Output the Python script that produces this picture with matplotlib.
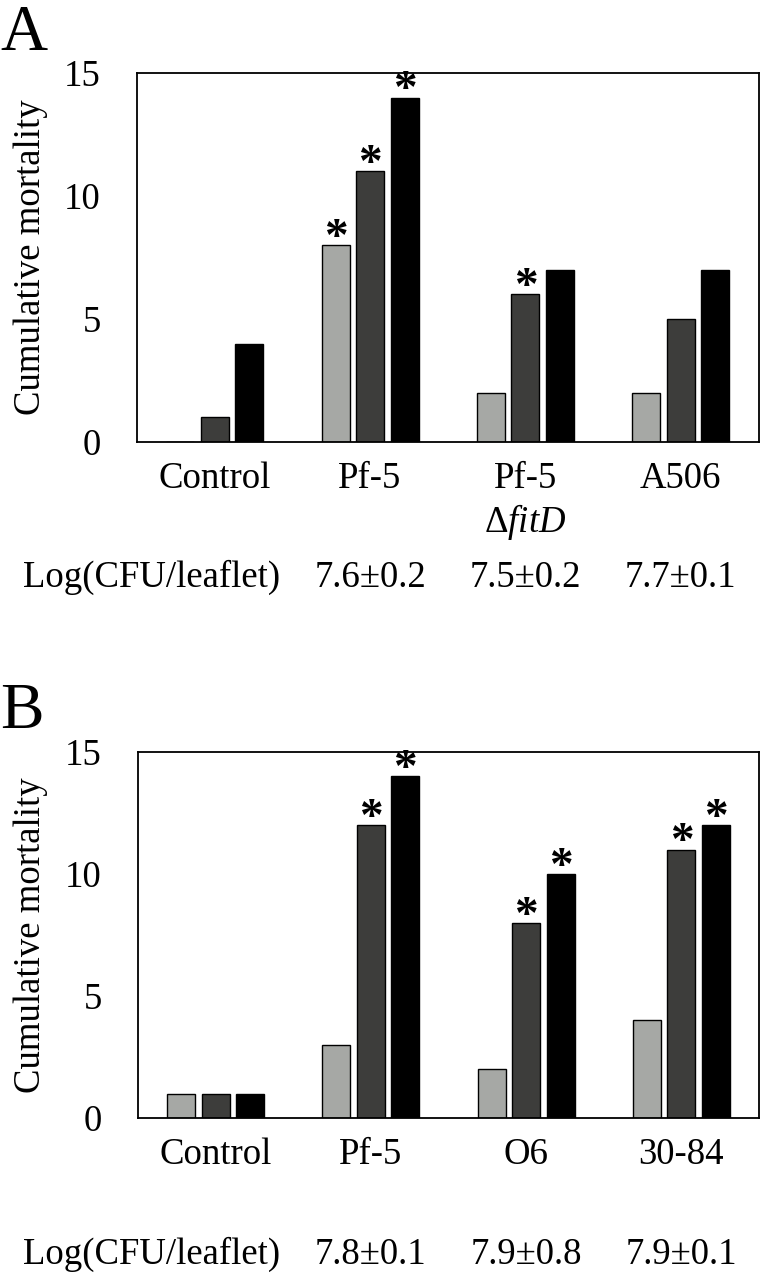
import numpy as np
import matplotlib
matplotlib.use("Agg")
import matplotlib.pyplot as plt

plt.rcParams['font.family'] = ['Liberation Serif', 'DejaVu Serif']
plt.rcParams['mathtext.fontset'] = 'custom'
plt.rcParams['mathtext.rm'] = 'Liberation Serif'
plt.rcParams['mathtext.it'] = 'Liberation Serif:italic'

# panel A
cats_a = ["Control", "Pf-5", "Pf-5\n$\\Delta\\mathit{fitD}$", "A506"]
a_light = [0, 8, 2, 2]
a_dark = [1, 11, 6, 5]
a_black = [4, 14, 7, 7]
a_star_light = [False, True, False, False]
a_star_dark = [False, True, True, False]
a_star_black = [False, True, False, False]
a_cfu = ["", "7.6\u00b10.2", "7.5\u00b10.2", "7.7\u00b10.1"]

# panel B
cats_b = ["Control", "Pf-5", "O6", "30-84"]
b_light = [1, 3, 2, 4]
b_dark = [1, 12, 8, 11]
b_black = [1, 14, 10, 12]
b_star_light = [False, False, False, False]
b_star_dark = [False, True, True, True]
b_star_black = [False, True, True, True]
b_cfu = ["", "7.8\u00b10.1", "7.9\u00b10.8", "7.9\u00b10.1"]

colors = ["#a6a8a5", "#3d3d3b", "#000000"]
W = 761
H = 1275
FS = 26.5


def panel(fig, rect, cats, series, stars, cfu, letter, letter_xy, cfu_y):
    ax = fig.add_axes(rect)
    x = np.arange(len(cats))
    offs = [-0.222, 0, 0.222]
    for vals, st, off, c in zip(series, stars, offs, colors):
        ax.bar(x + off, vals, width=0.18, color=c, edgecolor="black", linewidth=1.0, zorder=2)
        for xi, v, s in zip(x, vals, st):
            if s:
                ax.annotate("*", (xi + off, v), xytext=(0, -3.5), textcoords="offset points",
                            ha="center", va="baseline", fontsize=34, fontweight="bold")
    ax.set_xlim(-0.5, 3.5)
    ax.set_ylim(0, 15)
    ax.set_yticks([0, 5, 10, 15])
    ax.set_xticks(x)
    ax.set_xticklabels(cats, fontsize=FS, va="top", linespacing=1.2)
    ax.tick_params(axis="y", length=0, pad=26, labelsize=FS)
    ax.tick_params(axis="x", length=0, pad=14)
    for sp in ax.spines.values():
        sp.set_linewidth(1.3)
    # y label placed in figure pixels
    fig.text(31 / W, rect[1] + rect[3] / 2, "Cumulative mortality", fontsize=FS,
             rotation=90, ha="center", va="center")
    fig.text(letter_xy[0] / W, 1 - letter_xy[1] / H, letter, fontsize=47, ha="left", va="baseline")
    fig.text(152 / W, 1 - cfu_y / H, "Log(CFU/leaflet)", fontsize=FS, ha="center", va="baseline")
    for xi, t in zip(x, cfu):
        px = ax.transData.transform((xi, 0))[0]
        fig.text(px / W, 1 - cfu_y / H, t, fontsize=FS, ha="center", va="baseline")
    return ax


fig = plt.figure(figsize=(W / 100, H / 100), dpi=100)
panel(fig, [137 / W, 1 - 442 / H, 621.5 / W, 369 / H], cats_a,
      [a_light, a_dark, a_black], [a_star_light, a_star_dark, a_star_black],
      a_cfu, "A", (0, 50), 587)
panel(fig, [138 / W, 1 - 1118 / H, 621 / W, 366 / H], cats_b,
      [b_light, b_dark, b_black], [b_star_light, b_star_dark, b_star_black],
      b_cfu, "B", (0, 728), 1264)

fig.savefig("out.png", dpi=100)
